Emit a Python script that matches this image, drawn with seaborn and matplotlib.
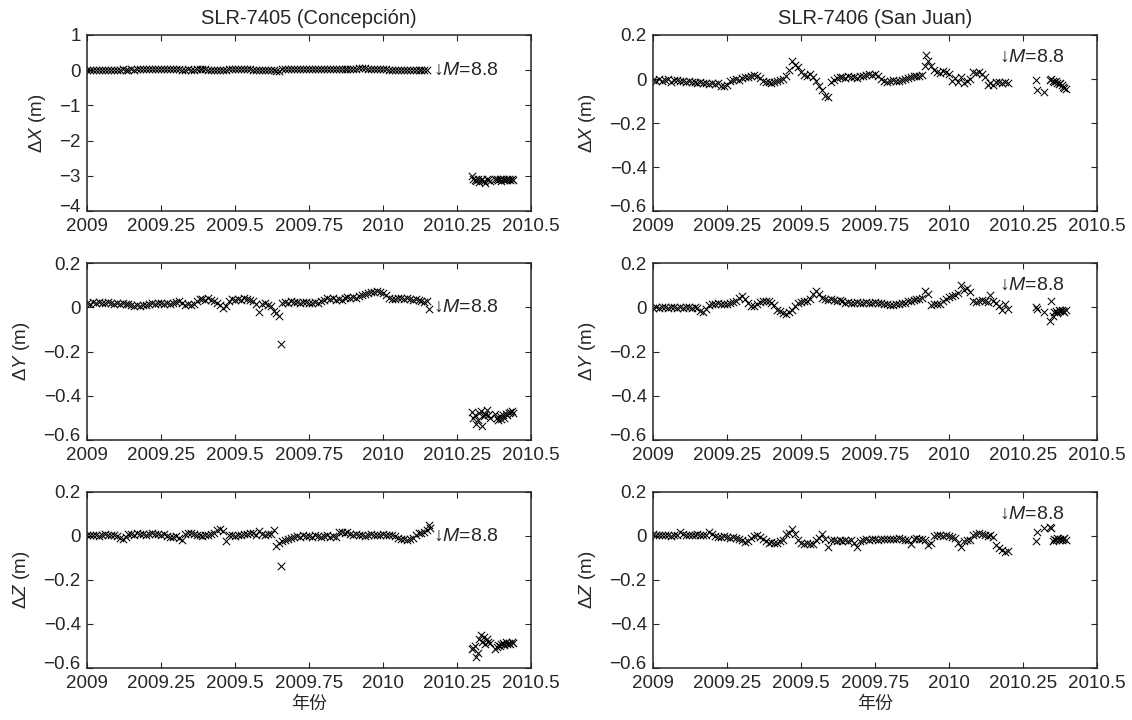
import matplotlib
matplotlib.use("Agg")
import matplotlib.pyplot as plt
import matplotlib.transforms as mtransforms
import seaborn as sns

# epochs (decimal year) of the daily solutions before the quake
t_con = [
    2009.00, 2009.01, 2009.02, 2009.03, 2009.04, 2009.05, 2009.06, 2009.07, 2009.08, 2009.09,
    2009.10, 2009.11, 2009.12, 2009.13, 2009.14, 2009.15, 2009.16, 2009.17, 2009.18, 2009.19,
    2009.20, 2009.21, 2009.22, 2009.23, 2009.24, 2009.25, 2009.26, 2009.27, 2009.28, 2009.29,
    2009.30, 2009.31, 2009.32, 2009.33, 2009.34, 2009.35, 2009.36, 2009.37, 2009.38, 2009.39,
    2009.40, 2009.41, 2009.42, 2009.43, 2009.44, 2009.45, 2009.46, 2009.47, 2009.48, 2009.49,
    2009.50, 2009.51, 2009.52, 2009.53, 2009.54, 2009.55, 2009.56, 2009.57, 2009.58, 2009.59,
    2009.60, 2009.61, 2009.62, 2009.63, 2009.64, 2009.65, 2009.66, 2009.67, 2009.68, 2009.69,
    2009.70, 2009.71, 2009.72, 2009.73, 2009.74, 2009.75, 2009.76, 2009.77, 2009.78, 2009.79,
    2009.80, 2009.81, 2009.82, 2009.83, 2009.84, 2009.85, 2009.86, 2009.87, 2009.88, 2009.89,
    2009.90, 2009.91, 2009.92, 2009.93, 2009.94, 2009.95, 2009.96, 2009.97, 2009.98, 2009.99,
    2010.00, 2010.01, 2010.02, 2010.03, 2010.04, 2010.05, 2010.06, 2010.07, 2010.08, 2010.09,
    2010.10, 2010.11, 2010.12, 2010.13, 2010.14, 2010.15,
]
t_sj = t_con + [2010.16, 2010.17, 2010.18, 2010.19, 2010.20]

# epochs after the quake
t_con_post = [
    2010.300, 2010.305, 2010.310, 2010.315, 2010.320, 2010.325, 2010.330,
    2010.335, 2010.340, 2010.345, 2010.350, 2010.355, 2010.360,
    2010.380, 2010.385, 2010.390, 2010.395, 2010.400, 2010.405, 2010.410,
    2010.415, 2010.420, 2010.425, 2010.430, 2010.435, 2010.440,
]
t_sj_post = [
    2010.295, 2010.298, 2010.322, 2010.340, 2010.345, 2010.350, 2010.355,
    2010.360, 2010.365, 2010.370, 2010.375, 2010.380, 2010.385, 2010.390, 2010.395,
]

# SLR-7405 (Concepcion), metres
dx_con = [
    0.010, 0.015, 0.012, 0.018, 0.014, 0.010, 0.016, 0.012, 0.015, 0.018,
    0.020, 0.016, 0.022, 0.018, 0.020, 0.025, 0.020, 0.022, 0.028, 0.024,
    0.030, 0.026, 0.030, 0.034, 0.028, 0.032, 0.030, 0.026, 0.030, 0.035,
    0.030, 0.026, 0.020, 0.015, 0.024, 0.020, 0.018, 0.025, 0.030, 0.022,
    0.025, 0.020, 0.018, 0.010, 0.005, 0.012, 0.000, 0.020, 0.030, 0.025,
    0.028, 0.030, 0.026, 0.024, 0.030, 0.025, 0.020, 0.015, 0.020, 0.018,
    0.012, 0.008, 0.005, 0.000, -0.020, -0.030, 0.040, 0.035, 0.030, 0.032,
    0.028, 0.030, 0.026, 0.030, 0.028, 0.025, 0.030, 0.026, 0.028, 0.030,
    0.032, 0.028, 0.025, 0.030, 0.035, 0.030, 0.028, 0.032, 0.035, 0.038,
    0.040, 0.045, 0.050, 0.055, 0.050, 0.045, 0.040, 0.035, 0.030, 0.028,
    0.025, 0.022, 0.020, 0.018, 0.020, 0.015, 0.018, 0.020, 0.016, 0.015,
    0.018, 0.014, 0.016, 0.012, 0.015, 0.018,
]
dx_con_post = [
    -3.00, -3.08, -3.12, -3.15, -3.10, -3.18, -3.12, -3.08, -3.14, -3.20, -3.10, -3.12, -3.15,
    -3.10, -3.08, -3.12, -3.10, -3.14, -3.09, -3.11, -3.13, -3.08, -3.10, -3.12, -3.10, -3.11,
]
dy_con = [
    0.022, 0.018, 0.024, 0.020, 0.025, 0.021, 0.019, 0.023, 0.020, 0.018,
    0.022, 0.017, 0.020, 0.015, 0.016, 0.010, 0.008, 0.012, 0.006, 0.010,
    0.013, 0.018, 0.020, 0.016, 0.022, 0.019, 0.017, 0.021, 0.015, 0.020,
    0.025, 0.028, 0.022, 0.012, 0.015, 0.010, 0.018, 0.030, 0.038, 0.040,
    0.036, 0.042, 0.035, 0.028, 0.020, 0.012, -0.002, 0.005, 0.030, 0.038,
    0.034, 0.040, 0.036, 0.045, 0.040, 0.032, 0.030, 0.015, -0.022, 0.018,
    0.022, 0.012, 0.008, -0.015, -0.025, -0.040, 0.020, 0.026, 0.022, 0.028,
    0.024, 0.027, 0.021, 0.025, 0.023, 0.022, 0.020, 0.025, 0.022, 0.028,
    0.032, 0.045, 0.038, 0.042, 0.035, 0.040, 0.035, 0.042, 0.048, 0.044,
    0.048, 0.042, 0.050, 0.055, 0.060, 0.065, 0.068, 0.072, 0.075, 0.070,
    0.065, 0.055, 0.045, 0.040, 0.038, 0.042, 0.045, 0.040, 0.043, 0.038,
    0.036, 0.040, 0.035, 0.030, 0.025, 0.028,
]
dy_con_post = [
    -0.475, -0.500, -0.490, -0.530, -0.510, -0.480, -0.470, -0.540, -0.495, -0.485, -0.465, -0.490, -0.500,
    -0.485, -0.500, -0.510, -0.495, -0.505, -0.490, -0.500, -0.485, -0.490, -0.480, -0.475, -0.470, -0.480,
]
dz_con = [
    0.003, 0.006, 0.002, 0.005, 0.000, 0.004, 0.007, 0.002, 0.005, 0.003,
    0.000, -0.010, -0.012, -0.005, 0.008, 0.010, 0.006, 0.012, 0.008, 0.010,
    0.006, 0.009, 0.012, 0.007, 0.010, 0.005, 0.008, 0.000, -0.003, -0.005,
    0.000, -0.008, -0.018, 0.010, 0.012, 0.015, 0.010, 0.003, 0.005, 0.000,
    0.006, 0.003, 0.008, 0.015, 0.027, 0.030, 0.022, -0.023, 0.005, 0.003,
    0.000, 0.005, 0.002, 0.008, 0.010, 0.015, 0.012, 0.005, 0.022, 0.010,
    0.005, 0.008, 0.010, 0.027, -0.045, -0.030, -0.023, -0.020, -0.012, -0.008,
    -0.005, 0.000, -0.003, 0.002, -0.002, 0.000, -0.005, 0.003, 0.000, -0.004,
    0.000, 0.002, -0.005, 0.000, -0.003, 0.018, 0.020, 0.015, 0.018, 0.010,
    0.005, 0.008, 0.003, 0.006, 0.000, 0.005, 0.008, 0.003, 0.006, 0.004,
    0.008, 0.005, 0.002, 0.006, 0.000, -0.008, -0.015, -0.012, -0.018, -0.014,
    -0.010, 0.005, 0.012, 0.015, 0.020, 0.025,
]
dz_con_post = [
    -0.515, -0.510, -0.500, -0.550, -0.530, -0.470, -0.450, -0.480, -0.460, -0.490, -0.470, -0.480, -0.485,
    -0.515, -0.505, -0.495, -0.500, -0.490, -0.485, -0.495, -0.480, -0.490, -0.485, -0.490, -0.480, -0.488,
]

# SLR-7406 (San Juan), metres
dx_sj = [
    -0.004, -0.008, 0.000, -0.010, -0.005, -0.002, -0.012, -0.006, -0.003, -0.009,
    -0.008, -0.012, -0.010, -0.015, -0.012, -0.018, -0.014, -0.020, -0.016, -0.022,
    -0.018, -0.024, -0.020, -0.030, -0.033, -0.028, -0.010, -0.005, 0.002, -0.004,
    0.005, 0.010, 0.008, 0.015, 0.020, 0.012, 0.005, -0.008, -0.015, -0.012,
    -0.018, -0.014, -0.010, -0.005, 0.002, 0.012, 0.040, 0.080, 0.065, 0.055,
    0.030, 0.020, 0.015, 0.025, 0.010, -0.010, -0.030, -0.050, -0.075, -0.080,
    -0.015, -0.005, 0.005, 0.008, 0.010, 0.006, 0.012, 0.008, 0.010, 0.005,
    0.012, 0.015, 0.018, 0.022, 0.020, 0.024, 0.012, 0.000, -0.008, -0.012,
    -0.010, -0.005, -0.010, -0.008, -0.004, 0.000, 0.005, 0.010, 0.012, 0.015,
    0.015, 0.018, 0.060, 0.080, 0.060, 0.040, 0.030, 0.028, 0.035, 0.032,
    0.025, -0.010, 0.005, -0.015, 0.010, -0.020, -0.010, 0.000, 0.030, 0.028,
    0.032, 0.025, 0.010, -0.025, -0.020, -0.028, -0.015, -0.012, -0.018, -0.015,
    -0.016,
]
dx_sj_post = [
    -0.003, -0.048, -0.060, -0.005, 0.000, -0.008, -0.012, -0.010,
    -0.018, -0.022, -0.020, -0.028, -0.035, -0.040, -0.045,
]
dy_sj = [
    -0.002, 0.002, -0.004, 0.000, 0.003, -0.003, 0.000, 0.002, -0.002, 0.000,
    -0.003, 0.000, 0.002, -0.002, 0.001, -0.004, -0.015, -0.020, -0.005, 0.010,
    0.015, 0.018, 0.020, 0.016, 0.018, 0.015, 0.020, 0.025, 0.030, 0.045,
    0.050, 0.040, 0.020, 0.008, 0.005, 0.015, 0.025, 0.030, 0.028, 0.030,
    0.020, 0.010, -0.010, -0.015, -0.025, -0.030, -0.020, -0.010, 0.005, 0.020,
    0.025, 0.030, 0.028, 0.040, 0.060, 0.075, 0.060, 0.045, 0.040, 0.035,
    0.038, 0.035, 0.030, 0.032, 0.028, 0.022, 0.025, 0.020, 0.022, 0.024,
    0.020, 0.022, 0.025, 0.022, 0.020, 0.024, 0.022, 0.020, 0.018, 0.015,
    0.010, 0.012, 0.015, 0.018, 0.020, 0.022, 0.028, 0.030, 0.035, 0.040,
    0.038, 0.045, 0.075, 0.060, 0.010, 0.015, 0.018, 0.015, 0.030, 0.040,
    0.048, 0.050, 0.055, 0.065, 0.100, 0.080, 0.090, 0.070, 0.030, 0.025,
    0.028, 0.035, 0.030, 0.025, 0.055, 0.030, 0.020, 0.005, -0.010, 0.015,
    -0.005,
]
dy_sj_post = [
    0.000, -0.005, -0.022, -0.060, 0.030, -0.040, -0.020, -0.015,
    -0.025, -0.010, -0.018, -0.012, -0.015, -0.020, -0.012,
]
dz_sj = [
    0.008, 0.005, 0.002, 0.006, 0.003, 0.005, 0.000, 0.004, 0.002, 0.020,
    0.008, 0.004, 0.006, 0.002, 0.005, 0.008, 0.003, 0.006, 0.004, 0.018,
    0.010, 0.000, -0.003, -0.005, -0.002, -0.006, -0.008, -0.005, -0.010, -0.012,
    -0.020, -0.027, -0.025, -0.010, 0.000, 0.002, -0.005, -0.015, -0.025, -0.030,
    -0.028, -0.032, -0.030, -0.025, -0.020, 0.010, 0.015, 0.030, 0.010, -0.020,
    -0.030, -0.035, -0.032, -0.038, -0.035, -0.020, -0.010, 0.010, -0.015, -0.050,
    -0.020, -0.018, -0.022, -0.020, -0.025, -0.018, -0.022, -0.020, -0.030, -0.050,
    -0.025, -0.020, -0.015, -0.018, -0.012, -0.015, -0.018, -0.014, -0.016, -0.012,
    -0.015, -0.012, -0.016, -0.010, -0.014, -0.020, -0.018, -0.035, -0.015, -0.010,
    -0.012, -0.015, -0.020, -0.040, -0.030, 0.000, 0.005, 0.002, -0.002, 0.003,
    0.000, -0.005, -0.010, -0.030, -0.050, -0.025, -0.020, -0.018, 0.005, 0.010,
    0.012, 0.008, 0.002, 0.000, 0.003, -0.005, -0.040, -0.055, -0.065, -0.075,
    -0.070,
]
dz_sj_post = [
    -0.024, 0.020, 0.035, 0.040, 0.035, -0.025, -0.015, -0.020,
    -0.010, -0.018, -0.012, -0.020, -0.015, -0.008, -0.018,
]

# isolated outliers (epoch, value)
out_dy_con = ([2009.655, 2010.155], [-0.166, -0.008])
out_dz_con = ([2009.655, 2010.155, 2010.158], [-0.135, 0.050, 0.035])
out_dx_sj = ([2009.922], [0.110])

titles = ["SLR-7405 (Concepción)", "SLR-7406 (San Juan)"]
ylabels = [r"$\Delta X$ (m)", r"$\Delta Y$ (m)", r"$\Delta Z$ (m)"]
xticks = [2009, 2009.25, 2009.5, 2009.75, 2010, 2010.25, 2010.5]
xticklabels = ["2009", "2009.25", "2009.5", "2009.75", "2010", "2010.25", "2010.5"]
quake_label = r"↓$M$=8.8"

sns.set_style("ticks")
plt.rcParams["font.family"] = ["Liberation Sans", "DejaVu Sans"]
plt.rcParams["mathtext.fontset"] = "custom"
plt.rcParams["mathtext.rm"] = "Liberation Sans"
plt.rcParams["mathtext.it"] = "Liberation Sans:italic"
plt.rcParams["mathtext.sf"] = "Liberation Sans"
plt.rcParams.update({
    "xtick.direction": "in", "ytick.direction": "in",
    "xtick.top": True, "ytick.right": True,
    "xtick.major.size": 4, "ytick.major.size": 4,
    "axes.linewidth": 1.1, "font.size": 13.5,
})

fig, axes = plt.subplots(3, 2, figsize=(11.32, 7.2), dpi=100)
fig.subplots_adjust(left=0.0769, right=0.9691, top=0.9514, bottom=0.0722,
                    wspace=0.275, hspace=0.297)

panels = [
    [(t_con, dx_con, t_con_post, dx_con_post, None), (t_sj, dx_sj, t_sj_post, dx_sj_post, out_dx_sj)],
    [(t_con, dy_con, t_con_post, dy_con_post, out_dy_con), (t_sj, dy_sj, t_sj_post, dy_sj_post, None)],
    [(t_con, dz_con, t_con_post, dz_con_post, out_dz_con), (t_sj, dz_sj, t_sj_post, dz_sj_post, None)],
]

# bottom y tick label sits a little above its tick, as in the original
lift = mtransforms.ScaledTranslation(0, 4 / 72, fig.dpi_scale_trans)

for r in range(3):
    for c in range(2):
        ax = axes[r, c]
        t, v, tp, vp, extra = panels[r][c]
        xs = list(t) + list(tp)
        ys = list(v) + list(vp)
        if extra is not None:
            xs += extra[0]
            ys += extra[1]
        sns.scatterplot(x=xs, y=ys, marker="x", color="k", s=28, linewidth=0.75, ax=ax)

        ax.set_xlim(2009, 2010.5)
        ax.set_xticks(xticks)
        ax.set_xticklabels(xticklabels)
        if r == 0 and c == 0:
            ax.set_ylim(-4, 1)
            ax.set_yticks([1, 0, -1, -2, -3, -4])
        else:
            ax.set_ylim(-0.6, 0.2)
            ax.set_yticks([0.2, 0, -0.2, -0.4, -0.6])
            ax.set_yticklabels(["0.2", "0", "\u22120.2", "\u22120.4", "\u22120.6"])
        ax.set_ylabel(ylabels[r], fontsize=13.5, labelpad=8)
        ax.tick_params(axis="x", labelsize=13.5, width=0.8, pad=5)
        ax.tick_params(axis="y", labelsize=13.5, width=0.8, pad=4.5)
        low = ax.get_yticklabels()[-1]
        low.set_transform(low.get_transform() + lift)

        # earthquake marker
        ty = 0.0 if c == 0 else 0.1
        ax.text(2010.17, ty, quake_label, ha="left", va="center", fontsize=14)

        if r == 0:
            ax.set_title(titles[c], fontsize=14.5, pad=8)
        if r == 2:
            ax.set_xlabel("年份", family=["Noto Sans CJK SC"], fontsize=13, labelpad=2)

fig.savefig("out.png", dpi=100)
